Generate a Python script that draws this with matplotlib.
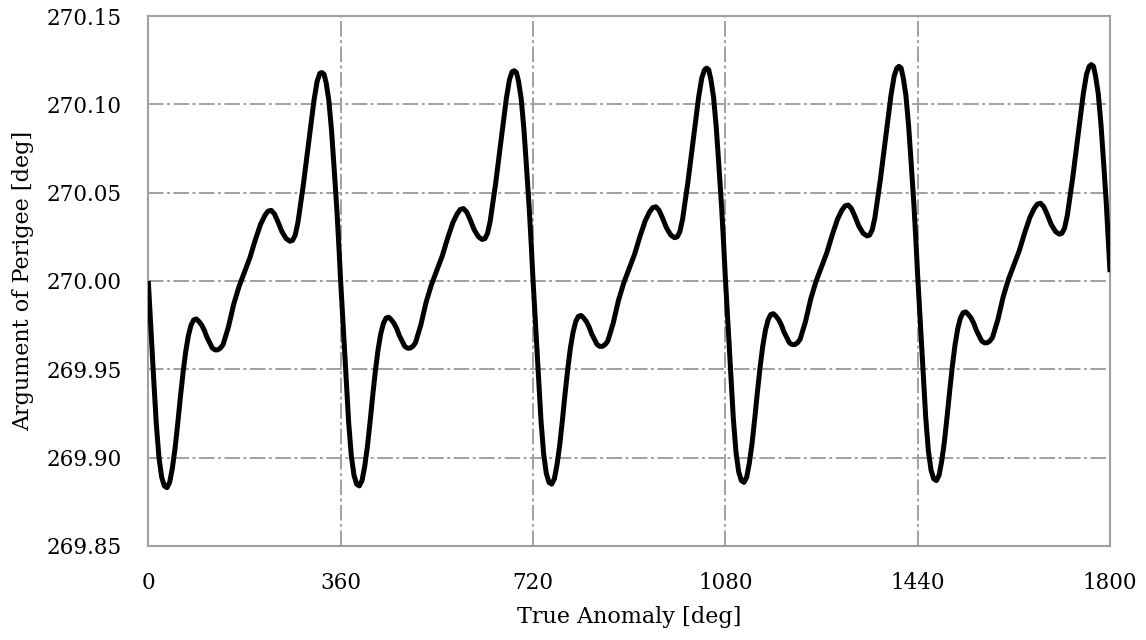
import matplotlib
matplotlib.use("Agg")
import matplotlib.pyplot as plt
import numpy as np

# start angle of each orbit [deg]
orbit_start = [0, 360, 720, 1080, 1440]

# true anomaly inside one orbit [deg]
orbit_angle = [0, 5, 10, 15, 20, 25, 30, 35, 40, 45,
               50, 55, 60, 65, 70, 75, 80, 85, 90, 95,
               100, 105, 110, 115, 120, 125, 130, 135, 140, 150,
               160, 170, 180, 190, 200, 210, 218, 224, 230, 236,
               242, 250, 258, 265, 270, 275, 280, 290, 300, 310,
               316, 321, 325, 329, 333, 338, 343, 348, 353, 357]

# argument of perigee, one list per orbit [deg]
orbit1 = [270.000, 269.972, 269.945, 269.919, 269.900, 269.889, 269.884, 269.883, 269.886, 269.894,
          269.905, 269.919, 269.934, 269.948, 269.960, 269.969, 269.975, 269.978, 269.9785, 269.977,
          269.975, 269.972, 269.968, 269.965, 269.962, 269.961, 269.961, 269.962, 269.964, 269.974,
          269.987, 269.997, 270.005, 270.013, 270.023, 270.032, 270.037, 270.0395, 270.040, 270.038,
          270.034, 270.028, 270.024, 270.0225, 270.023, 270.026, 270.033, 270.054, 270.078, 270.102,
          270.113, 270.1175, 270.118, 270.117, 270.112, 270.102, 270.085, 270.063, 270.040, 270.018]
orbit2 = [270.000, 269.973, 269.946, 269.920, 269.901, 269.890, 269.885, 269.884, 269.887, 269.895,
          269.906, 269.920, 269.935, 269.949, 269.961, 269.970, 269.976, 269.979, 269.9795, 269.978,
          269.976, 269.973, 269.969, 269.966, 269.963, 269.962, 269.962, 269.963, 269.965, 269.975,
          269.988, 269.998, 270.006, 270.014, 270.024, 270.033, 270.038, 270.0405, 270.041, 270.039,
          270.035, 270.029, 270.025, 270.0235, 270.024, 270.027, 270.034, 270.055, 270.079, 270.103,
          270.114, 270.1185, 270.119, 270.118, 270.113, 270.103, 270.086, 270.064, 270.041, 270.019]
orbit3 = [270.001, 269.974, 269.947, 269.921, 269.902, 269.891, 269.886, 269.885, 269.888, 269.896,
          269.907, 269.921, 269.936, 269.950, 269.962, 269.971, 269.977, 269.980, 269.9805, 269.979,
          269.977, 269.974, 269.970, 269.967, 269.964, 269.963, 269.963, 269.964, 269.966, 269.976,
          269.989, 269.999, 270.007, 270.015, 270.025, 270.034, 270.039, 270.0415, 270.042, 270.040,
          270.036, 270.030, 270.026, 270.0245, 270.025, 270.028, 270.035, 270.056, 270.080, 270.104,
          270.115, 270.1195, 270.1205, 270.1195, 270.114, 270.104, 270.087, 270.065, 270.042, 270.020]
orbit4 = [270.002, 269.975, 269.948, 269.922, 269.903, 269.892, 269.887, 269.886, 269.889, 269.897,
          269.908, 269.922, 269.937, 269.951, 269.963, 269.972, 269.978, 269.981, 269.9815, 269.980,
          269.978, 269.975, 269.971, 269.968, 269.965, 269.964, 269.964, 269.965, 269.967, 269.977,
          269.990, 270.000, 270.008, 270.016, 270.026, 270.035, 270.040, 270.0425, 270.043, 270.041,
          270.037, 270.031, 270.027, 270.0255, 270.026, 270.029, 270.036, 270.057, 270.081, 270.105,
          270.116, 270.1205, 270.1215, 270.1205, 270.115, 270.105, 270.088, 270.066, 270.043, 270.021]
orbit5 = [270.003, 269.976, 269.949, 269.923, 269.904, 269.893, 269.888, 269.887, 269.890, 269.898,
          269.909, 269.923, 269.938, 269.952, 269.964, 269.973, 269.979, 269.982, 269.9825, 269.981,
          269.979, 269.976, 269.972, 269.969, 269.966, 269.965, 269.965, 269.966, 269.968, 269.978,
          269.991, 270.001, 270.009, 270.017, 270.027, 270.036, 270.041, 270.0435, 270.044, 270.042,
          270.038, 270.032, 270.028, 270.0265, 270.027, 270.030, 270.037, 270.058, 270.082, 270.106,
          270.117, 270.1215, 270.1225, 270.1215, 270.116, 270.106, 270.089, 270.067, 270.044, 270.022]
# last sample at the end of the fifth orbit
end_anomaly = 1800
end_value = 270.005

xticks = [0, 360, 720, 1080, 1440, 1800]
yticks = [269.85, 269.90, 269.95, 270.00, 270.05, 270.10, 270.15]

orbits = [orbit1, orbit2, orbit3, orbit4, orbit5]
anomaly = []
perigee = []
for start, vals in zip(orbit_start, orbits):
    anomaly += [start + a for a in orbit_angle]
    perigee += vals
anomaly.append(end_anomaly)
perigee.append(end_value)

plt.rcParams['font.family'] = ['DejaVu Serif']

fig = plt.figure(figsize=(11.46, 6.4), dpi=100)
ax = fig.add_axes([0.1294, 0.1469, 0.8392, 0.8281])

grid_color = '#a0a0a0'
for x in xticks[1:-1]:
    ax.axvline(x, color=grid_color, lw=1.4, dashes=(8, 1.8, 1.5, 1.8), zorder=1)
for y in yticks[1:-1]:
    ax.axhline(y, color=grid_color, lw=1.4, dashes=(8, 1.8, 1.5, 1.8), zorder=1)

ax.plot(anomaly, perigee, color='black', lw=3.6, solid_joinstyle='round',
        solid_capstyle='butt', zorder=3)

ax.set_xlim(0, 1800)
ax.set_ylim(269.85, 270.15)
ax.set_xticks(xticks)
ax.set_yticks(yticks)
ax.set_yticklabels(['%.2f' % v for v in yticks])
ax.tick_params(axis='both', length=0, labelsize=15.5, colors='black')
ax.tick_params(axis='y', pad=19)
ax.tick_params(axis='x', pad=19)

for s in ax.spines.values():
    s.set_color(grid_color)
    s.set_linewidth(1.5)

ax.set_xlabel('True Anomaly [deg]', fontsize=16)
ax.set_ylabel('Argument of Perigee [deg]', fontsize=16)
ax.xaxis.set_label_coords(0.5, -0.113)
ax.yaxis.set_label_coords(-0.119, 0.5)

plt.savefig('out.png', dpi=100)
